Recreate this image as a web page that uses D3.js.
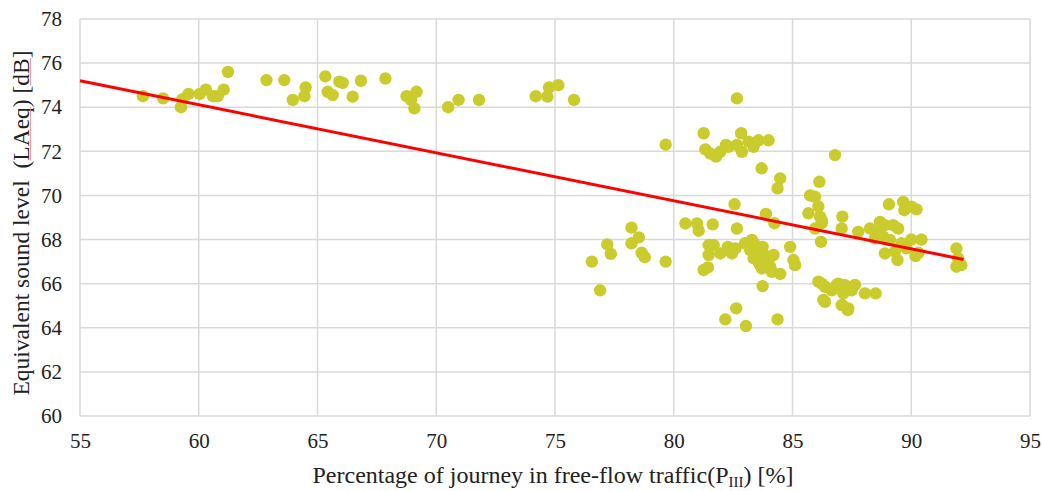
<!DOCTYPE html>
<html>
<head>
<meta charset="utf-8">
<script src="https://cdn.jsdelivr.net/npm/d3@7"></script>
<style>
  body { margin: 0; background: #fff; }
  text { font-family: "Liberation Serif", "Times New Roman", serif; fill: #222; }
</style>
</head>
<body>
<div id="chart"></div>
<script>
// free-flow share [%] of each journey
const freeFlow = [
  57.65, 58.5, 59.25, 59.3, 59.57, 60.04, 60.3, 60.6, 60.8, 61.05, 61.23,
  62.85, 63.6, 63.96, 64.5, 64.45, 65.33, 65.43, 65.64, 65.92, 66.06, 66.48, 66.83, 67.86,
  68.75, 68.94, 69.17, 69.08, 70.5, 70.94, 71.8, 74.19, 74.68, 74.75, 75.14, 75.8,
  76.55, 76.9, 77.2, 77.35, 78.22, 78.53, 78.22, 78.78, 78.65, 79.66, 79.66,
  82.66, 81.26, 81.33, 81.54, 81.78, 81.96, 82.2, 82.3, 82.66, 82.84, 82.87, 83.15, 83.36,
  83.57, 83.99, 83.7, 84.48, 84.37, 86.79, 86.13, 85.74, 85.95, 86.09, 85.67, 86.16, 86.23,
  85.95, 86.2, 82.56, 83.88, 84.24, 80.49, 80.98, 81.05, 81.64, 82.66, 87.1, 87.07,
  81.26, 81.44, 81.47, 81.68, 81.47, 81.96, 82.28, 82.6, 82.45, 83.0, 83.29, 83.22, 83.74,
  83.36, 83.57, 84.02, 83.71, 84.06, 84.13, 84.48, 83.74, 84.9, 85.04, 85.11,
  82.63, 82.17, 83.04, 84.37,
  86.09, 86.37, 86.3, 86.65, 86.93, 87.21, 87.49, 87.1, 87.35,
  86.23, 87.77, 88.26, 88.68, 88.89, 89.24, 89.45, 88.47, 88.82, 89.1, 89.59, 88.89, 89.31,
  89.42, 89.8, 90.18, 90.43, 89.06, 89.66, 89.71, 90.01, 90.22, 91.9, 91.97, 92.11, 91.9,
  86.23, 86.37, 86.86, 87.14, 87.07, 87.33, 87.63, 88.05, 88.5, 88.6, 90.3, 90.0,
  83.5, 83.8, 83.6, 83.9, 84.2, 83.4
];
// equivalent sound level LAeq [dB]
const soundLevel = [
  74.5, 74.4, 74.0, 74.35, 74.6, 74.6, 74.8, 74.5, 74.5, 74.8, 75.6,
  75.23, 75.23, 74.33, 74.9, 74.5, 75.4, 74.7, 74.55, 75.16, 75.1, 74.48, 75.2, 75.3,
  74.5, 74.33, 74.7, 73.95, 74.0, 74.33, 74.33, 74.5, 74.48, 74.9, 75.0, 74.33,
  67.0, 65.7, 67.78, 67.35, 68.54, 68.1, 67.83, 67.2, 67.4, 72.3, 67.0,
  74.4, 72.82, 72.09, 71.9, 71.76, 71.98, 72.29, 72.2, 72.29, 72.82, 71.98, 72.44, 72.2,
  72.5, 72.5, 71.23, 70.77, 70.32, 71.83, 70.62, 70.0, 69.94, 69.5, 69.19, 69.04, 68.74,
  68.5, 67.9, 69.6, 69.16, 68.74, 68.73, 68.73, 68.4, 68.69, 68.5, 69.04, 68.5,
  66.62, 66.74, 67.75, 67.75, 67.3, 67.37, 67.67, 67.6, 67.37, 67.83, 67.98, 67.52, 67.67,
  67.15, 67.0, 67.15, 66.69, 66.77, 66.54, 66.44, 65.89, 67.67, 67.07, 66.84,
  64.88, 64.38, 64.08, 64.38,
  66.09, 65.86, 65.26, 65.7, 66.0, 65.93, 65.7, 65.03, 64.88,
  68.88, 68.35, 68.5, 68.8, 68.65, 68.65, 68.5, 68.05, 68.13, 67.98, 67.83, 67.37, 67.45,
  67.07, 67.6, 67.25, 68.0, 69.6, 69.71, 69.33, 69.49, 69.37, 67.6, 67.15, 66.84, 66.77,
  66.0, 65.18, 65.94, 65.56, 65.03, 64.8, 65.94, 65.56, 65.56, 68.3, 67.4, 68.0,
  67.4, 67.3, 66.9, 66.9, 67.3, 67.8
];
// linear trend
const trendX = [55, 92.2];
const trendY = [75.2, 67.1];

const xTicks = [55, 60, 65, 70, 75, 80, 85, 90, 95];
const yTicks = [60, 62, 64, 66, 68, 70, 72, 74, 76, 78];

const W = 1042, H = 491;
const margin = { top: 19, right: 12, bottom: 75, left: 80 };
const serif = 'Liberation Serif';

const svg = d3.select('#chart')
  .append('svg')
  .attr('width', W)
  .attr('height', H);

const g = svg.append('g')
  .attr('transform', 'translate(' + margin.left + ',' + margin.top + ')');

const x = d3.scaleLinear().domain([55, 95]).range([0, 950]);
const y = d3.scaleLinear().domain([60, 78]).range([397, 0]);

// grid
g.append('g')
  .selectAll('line')
  .data(xTicks)
  .join('line')
  .attr('x1', d => x(d)).attr('x2', d => x(d))
  .attr('y1', 0).attr('y2', y(60))
  .attr('stroke', '#d9d9d9').attr('stroke-width', 1.5);

g.append('g')
  .selectAll('line')
  .data(yTicks)
  .join('line')
  .attr('x1', 0).attr('x2', x(95))
  .attr('y1', d => y(d)).attr('y2', d => y(d))
  .attr('stroke', '#d9d9d9').attr('stroke-width', 1.5);

// axes (labels only)
const xAxis = g.append('g')
  .attr('transform', 'translate(0,' + y(60) + ')')
  .call(d3.axisBottom(x).tickValues(xTicks).tickSize(0).tickPadding(17));
const yAxis = g.append('g')
  .call(d3.axisLeft(y).tickValues(yTicks).tickSize(0).tickPadding(18));
[xAxis, yAxis].forEach(a => {
  a.select('.domain').remove();
  a.attr('font-family', serif).attr('font-size', 21);
  a.selectAll('text')
    .attr('font-family', serif)
    .style('font-family', serif)
    .style('font-size', '21px')
    .attr('fill', '#222');
});

// points
const pts = freeFlow.map((v, i) => ({ x: v, y: soundLevel[i] }));
g.append('g')
  .selectAll('circle')
  .data(pts)
  .join('circle')
  .attr('cx', d => x(d.x))
  .attr('cy', d => y(d.y))
  .attr('r', 6.2)
  .attr('fill', '#cacb2c');

// trend line
const line = d3.line().x(d => x(d[0])).y(d => y(d[1]));
g.append('path')
  .datum(trendX.map((v, i) => [v, trendY[i]]))
  .attr('fill', 'none')
  .attr('stroke', '#ff0000')
  .attr('stroke-width', 3)
  .attr('d', line);

// axis titles
const xt = svg.append('text')
  .attr('x', 553)
  .attr('y', 483)
  .attr('text-anchor', 'middle')
  .style('font-size', '24px');
xt.append('tspan').text('Percentage of journey in free-flow traffic(P');
xt.append('tspan').attr('baseline-shift', '-25%').style('font-size', '15px').text('III');
xt.append('tspan').text(') [%]');

const yLabel = 'Equivalent sound level  (LAeq) [dB]';
const yg = svg.append('g')
  .attr('transform', 'translate(29,223) rotate(-90)');
const yt = yg.append('text')
  .attr('text-anchor', 'middle')
  .style('font-size', '23.5px')
  .style('white-space', 'pre')
  .text(yLabel);

// spell-check underlines under "LAeq" and "dB"
const node = yt.node();
const total = node.getComputedTextLength();
['LAeq', 'dB'].forEach(word => {
  const i = yLabel.indexOf(word);
  const start = node.getSubStringLength(0, i) - total / 2;
  const len = node.getSubStringLength(i, word.length);
  yg.append('line')
    .attr('x1', start).attr('x2', start + len)
    .attr('y1', 1.5).attr('y2', 1.5)
    .attr('stroke', '#f08080')
    .attr('stroke-width', 0.8);
});
</script>
</body>
</html>
